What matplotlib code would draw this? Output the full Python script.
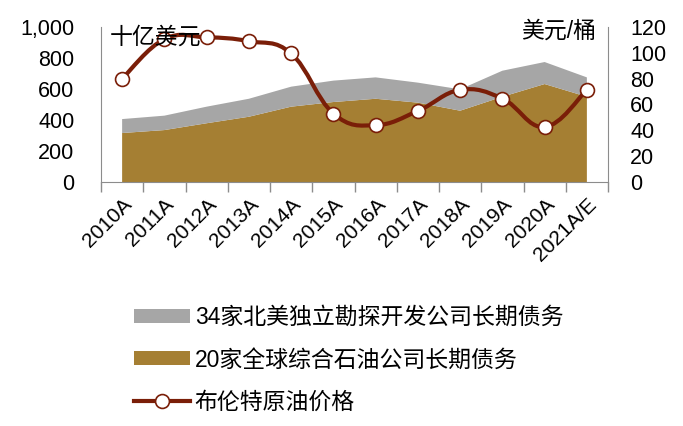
import matplotlib
matplotlib.use("Agg")
import matplotlib.pyplot as plt
from matplotlib.path import Path
from matplotlib.patches import PathPatch, Patch
from matplotlib.lines import Line2D
import numpy as np

plt.rcParams['font.family'] = ['Liberation Sans', 'Noto Sans CJK SC', 'DejaVu Sans']

categories = ["2010A", "2011A", "2012A", "2013A", "2014A", "2015A", "2016A",
              "2017A", "2018A", "2019A", "2020A", "2021A/E"]
integrated_debt = [316, 335, 379, 421, 486, 516, 537, 512, 460, 550, 632, 550]
ep_debt = [90, 93, 107, 116, 129, 138, 138, 129, 138, 168, 142, 125]
brent_price = [80, 110.6, 112, 109, 99.5, 53, 44, 55, 71.3, 64.6, 42.6, 71.3]

label_ep = "34家北美独立勘探开发公司长期债务"
label_int = "20家全球综合石油公司长期债务"
label_brent = "布伦特原油价格"

c_gray = "#A6A6A6"
c_brown = "#A57F33"
c_line = "#7A1E08"
c_axis = "#8C8C8C"

fig = plt.figure(figsize=(6.83, 4.26), dpi=100)
ax = fig.add_axes([101/683, 1-182/426, 507/683, 155/426])
x = np.arange(len(categories))
ax.stackplot(x, integrated_debt, ep_debt, colors=[c_brown, c_gray], linewidth=0)
ax.set_xlim(-0.5, len(categories) - 0.5)
ax.set_ylim(0, 1000)
ax.set_yticks([0, 200, 400, 600, 800, 1000])
ax.set_yticklabels(["0", "200", "400", "600", "800", "1,000"])
ax.tick_params(axis='y', length=0, pad=19, labelsize=15.5)
ax.set_xticks(x)
ax.set_xticklabels(categories, rotation=45, ha='right', rotation_mode='anchor')
ax.tick_params(axis='x', which='major', length=0, pad=9, labelsize=15)
ax.set_xticks(np.arange(-0.5, len(categories)), minor=True)
ax.tick_params(axis='x', which='minor', length=7, color=c_axis, width=1)
for s in ['top', 'right']:
    ax.spines[s].set_visible(False)
for s in ['left', 'bottom']:
    ax.spines[s].set_color(c_axis)

ax2 = ax.twinx()
ax2.set_ylim(0, 120)
ax2.set_yticks([0, 20, 40, 60, 80, 100, 120])
ax2.tick_params(axis='y', length=0, pad=16, labelsize=15.5)
for s in ['top', 'left', 'bottom']:
    ax2.spines[s].set_visible(False)
ax2.spines['right'].set_color(c_axis)

# smoothed line through data points (Bezier segments, Excel-like smoothing)
pts = np.column_stack([x, brent_price]).astype(float)
n = len(pts)
k = 1 / 5.0
verts = [tuple(pts[0])]
codes = [Path.MOVETO]
for i in range(n - 1):
    p0 = pts[max(i - 1, 0)]
    p1 = pts[i]
    p2 = pts[i + 1]
    p3 = pts[min(i + 2, n - 1)]
    c1 = p1 + (p2 - p0) * k
    c2 = p2 - (p3 - p1) * k
    verts += [tuple(c1), tuple(c2), tuple(p2)]
    codes += [Path.CURVE4] * 3
ax2.add_patch(PathPatch(Path(verts, codes), facecolor='none', edgecolor=c_line,
                        lw=3, zorder=3, capstyle='round', joinstyle='round'))
ax2.plot(x, brent_price, linestyle='none', marker='o', markersize=10,
         markerfacecolor='white', markeredgecolor=c_line, markeredgewidth=1.2, zorder=4)

fig.text(110/683, 1-37/426, "十亿美元", fontsize=16.5, ha='left', va='center')
fig.text(596/683, 1-31/426, "美元/桶", fontsize=16.5, ha='right', va='center')

handles = [Patch(facecolor=c_gray, edgecolor='none'),
           Patch(facecolor=c_brown, edgecolor='none'),
           Line2D([], [], color=c_line, lw=3, marker='o', markersize=10,
                  markerfacecolor='white', markeredgecolor=c_line, markeredgewidth=1.2)]
fig.legend(handles, [label_ep, label_int, label_brent], loc='upper left',
           bbox_to_anchor=(134/683, 1-306/426), frameon=False, fontsize=16.5,
           handlelength=2.45, handleheight=0.55, handletextpad=0.2,
           labelspacing=0.85, numpoints=1, borderaxespad=0, borderpad=0)

fig.savefig("out.png", dpi=100)
